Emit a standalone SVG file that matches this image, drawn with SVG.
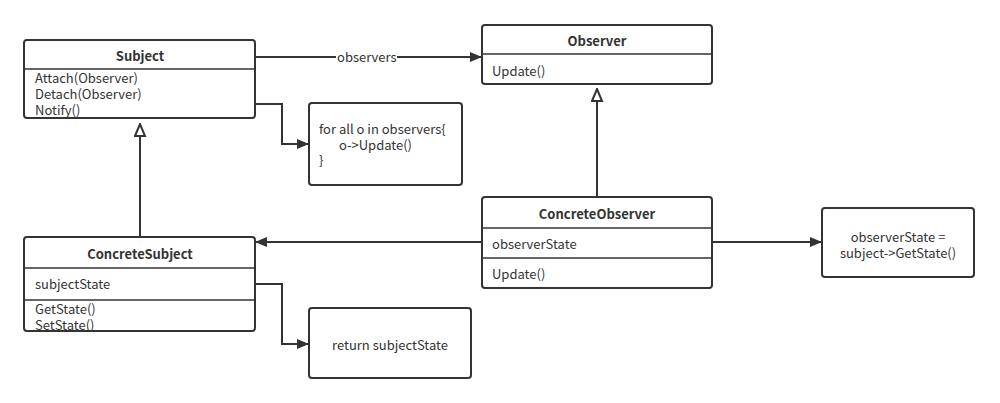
<svg xmlns="http://www.w3.org/2000/svg" width="1000" height="403" viewBox="0 0 1000 403">
<style>
.box{fill:#fff;stroke:#333;stroke-width:2}
.div{stroke:#333;stroke-width:1.5}
.t{font-family:"Noto Sans CJK SC","Noto Sans",sans-serif;font-size:13px;fill:#333}
.b{font-weight:bold;text-anchor:middle}
.c{text-anchor:middle}
.ln{fill:none;stroke:#333;stroke-width:2}
</style>
<defs>
<marker id="fa" markerWidth="12" markerHeight="10" refX="12" refY="5" orient="auto" markerUnits="userSpaceOnUse"><path d="M0,0 L12,5 L0,10 Z" fill="#333"/></marker>
<marker id="ha" markerWidth="14" markerHeight="14" refX="13" refY="6" orient="auto" markerUnits="userSpaceOnUse"><path d="M1,1 L13,6 L1,11 Z" fill="#fff" stroke="#333" stroke-width="2"/></marker>
<clipPath id="cs"><rect x="24" y="40" width="231" height="78" rx="3"/></clipPath>
<clipPath id="ccs"><rect x="24" y="237" width="231" height="94" rx="3"/></clipPath>
</defs>
<g id="connectors">
<path class="ln" d="M255,57 H482" marker-end="url(#fa)"/>
<rect x="336" y="49" width="61" height="16" fill="#fff"/>
<text class="t" x="337" y="62">observers</text>
<path class="ln" d="M255,104 H282 V144 H309" marker-end="url(#fa)"/>
<path class="ln" d="M140,238 V124" marker-end="url(#ha)"/>
<path class="ln" d="M597,197 V89" marker-end="url(#ha)"/>
<path class="ln" d="M482,242 H255" marker-end="url(#fa)"/>
<path class="ln" d="M255,284 H282 V344 H309" marker-end="url(#fa)"/>
<path class="ln" d="M712,242 H822" marker-end="url(#fa)"/>
</g>
<g id="subject">
<rect class="box" x="24" y="40" width="231" height="78" rx="3"/>
<line class="div" x1="24" y1="69" x2="255" y2="69"/>
<text class="t b" x="140" y="61">Subject</text>
<g clip-path="url(#cs)">
<text class="t" x="35" y="83">Attach(Observer)</text>
<text class="t" x="35" y="99">Detach(Observer)</text>
<text class="t" x="35" y="115">Notify()</text>
</g>
</g>
<g id="observer">
<rect class="box" x="482" y="25" width="230" height="59" rx="3"/>
<line class="div" x1="482" y1="54" x2="712" y2="54"/>
<text class="t b" x="597" y="46">Observer</text>
<text class="t" x="492" y="76">Update()</text>
</g>
<g id="note-notify">
<rect class="box" x="309" y="103" width="153" height="82" rx="3"/>
<text class="t" x="319" y="134">for all o in observers{</text>
<text class="t" x="339" y="150">o-&gt;Update()</text>
<text class="t" x="319" y="165">}</text>
</g>
<g id="concrete-subject">
<rect class="box" x="24" y="237" width="231" height="94" rx="3"/>
<line class="div" x1="24" y1="268" x2="255" y2="268"/>
<line class="div" x1="24" y1="300" x2="255" y2="300"/>
<text class="t b" x="140" y="259">ConcreteSubject</text>
<text class="t" x="35" y="289">subjectState</text>
<g clip-path="url(#ccs)">
<text class="t" x="35" y="314">GetState()</text>
<text class="t" x="35" y="330">SetState()</text>
</g>
</g>
<g id="note-return">
<rect class="box" x="309" y="308" width="162" height="70" rx="3"/>
<text class="t c" x="390" y="350">return subjectState</text>
</g>
<g id="concrete-observer">
<rect class="box" x="482" y="197" width="230" height="91" rx="3"/>
<line class="div" x1="482" y1="228" x2="712" y2="228"/>
<line class="div" x1="482" y1="258" x2="712" y2="258"/>
<text class="t b" x="597" y="219">ConcreteObserver</text>
<text class="t" x="492" y="249">observerState</text>
<text class="t" x="492" y="279">Update()</text>
</g>
<g id="note-state">
<rect class="box" x="822" y="208" width="152" height="69" rx="3"/>
<text class="t c" x="898" y="242">observerState =</text>
<text class="t c" x="898" y="258">subject-&gt;GetState()</text>
</g>
</svg>
